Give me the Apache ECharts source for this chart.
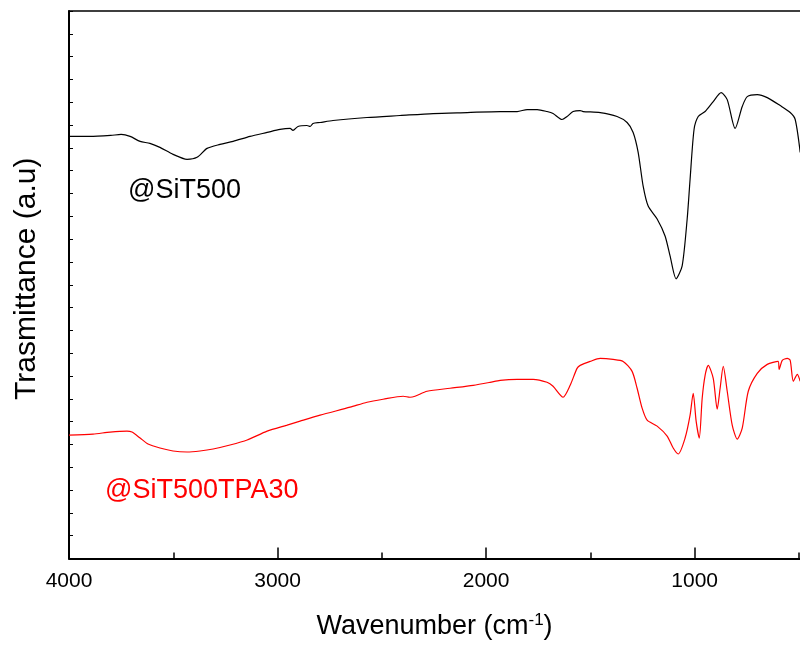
<!DOCTYPE html>
<html>
<head>
<meta charset="utf-8">
<script src="https://cdn.jsdelivr.net/npm/echarts@6/dist/echarts.min.js"></script>
<style>
  html, body { margin: 0; padding: 0; background: #fff; }
  #chart { width: 800px; height: 645px; }
</style>
</head>
<body>
<div id="chart"></div>
<script>
// Axis tick values
const majorTicks = [4000, 3000, 2000, 1000];
const minorTicks = [3500, 2500, 1500, 500];

// @SiT500 spectrum (wavenumber, transmittance a.u.)
const sit500Wn = [4000, 3900, 3800, 3750, 3707, 3659, 3612, 3564, 3501, 3434, 3386, 3338, 3276, 3213, 3132, 3050, 2988, 2940, 2926, 2902, 2859, 2844, 2830, 2796, 2734, 2571, 2413, 2254, 2091, 1933, 1851, 1803, 1755, 1708, 1679, 1636, 1612, 1583, 1549, 1535, 1453, 1372, 1324, 1295, 1271, 1247, 1223, 1180, 1142, 1118, 1089, 1060, 1036, 1022, 1003, 983, 950, 911, 873, 844, 806, 772, 748, 700, 652, 590, 542, 518, 494];
const sit500T = [424, 424, 425, 426, 424, 419, 417, 413, 406, 401, 403, 412, 416, 419, 424, 428, 431, 432, 430, 434, 435, 434, 437, 438, 440, 443, 445, 447, 448, 449, 449, 451, 451, 449, 447, 441, 444, 449, 450, 449, 448, 444, 438, 428, 408, 374, 354, 341, 324, 304, 281, 294, 341, 381, 431, 444, 449, 459, 468, 461, 432, 454, 464, 466, 463, 455, 448, 441, 408];

// @SiT500TPA30 spectrum (wavenumber, transmittance a.u.)
const tpaWn = [4000, 3885, 3803, 3722, 3698, 3659, 3621, 3564, 3501, 3434, 3372, 3309, 3228, 3146, 3050, 2954, 2892, 2796, 2652, 2571, 2494, 2398, 2365, 2341, 2283, 2173, 2062, 1981, 1933, 1851, 1775, 1708, 1679, 1631, 1597, 1564, 1549, 1501, 1453, 1391, 1343, 1300, 1276, 1252, 1228, 1180, 1132, 1103, 1079, 1046, 1022, 1007, 993, 978, 964, 950, 935, 911, 892, 878, 863, 844, 820, 796, 772, 743, 700, 652, 600, 595, 580, 556, 542, 527, 508, 494];
const tpaT = [124, 125, 127, 128, 127, 121, 115, 111, 108, 107, 108, 110, 114, 119, 128, 134, 138, 144, 152, 157, 160, 163, 162, 163, 168, 171, 174, 177, 179, 180, 180, 177, 173, 162, 174, 191, 194, 198, 201, 200, 198, 188, 171, 151, 139, 133, 123, 111, 105, 121, 144, 166, 138, 121, 161, 184, 194, 181, 150, 171, 193, 168, 134, 120, 131, 168, 186, 195, 198, 190, 199, 201, 199, 178, 185, 178];

const font = '"Liberation Sans", Arial, sans-serif';
const chart = echarts.init(document.getElementById('chart'));

chart.setOption({
    animation: false,
    grid: { left: 69, right: 0, top: 11, bottom: 84 },
    xAxis: [
        {
            type: 'value',
            inverse: true,
            min: 495,
            max: 4000,
            position: 'bottom',
            name: 'Wavenumber (cm{sup|-1})',
            nameLocation: 'middle',
            nameGap: 53,
            nameTextStyle: {
                color: '#000',
                fontFamily: font,
                fontSize: 27,
                rich: {
                    sup: { fontSize: 17, fontFamily: font, color: '#000', padding: [0, 0, 13, 0] }
                }
            },
            axisLine: { lineStyle: { color: '#000', width: 2 } },
            axisTick: { inside: true, length: 11, customValues: majorTicks, lineStyle: { color: '#000', width: 1.5 } },
            axisLabel: {
                customValues: majorTicks,
                formatter: v => String(v),
                color: '#000',
                fontFamily: font,
                fontSize: 21,
                margin: 12
            },
            splitLine: { show: false }
        },
        {
            type: 'value',
            inverse: true,
            min: 495,
            max: 4000,
            position: 'bottom',
            axisLine: { show: false },
            axisTick: { inside: true, length: 6, customValues: minorTicks, lineStyle: { color: '#000', width: 1.5 } },
            axisLabel: { show: false },
            splitLine: { show: false }
        },
        {
            type: 'value',
            inverse: true,
            min: 495,
            max: 4000,
            position: 'top',
            axisLine: { lineStyle: { color: '#000', width: 1.5 } },
            axisTick: { show: false },
            axisLabel: { show: false },
            splitLine: { show: false }
        }
    ],
    yAxis: {
        type: 'value',
        min: 0,
        max: 550,
        interval: 550 / 24,
        name: 'Trasmittance (a.u)',
        nameLocation: 'middle',
        nameGap: 27,
        nameTextStyle: { color: '#000', fontFamily: font, fontSize: 30, padding: [0, 0, 0, 12] },
        axisLine: { lineStyle: { color: '#000', width: 2 } },
        axisTick: { inside: true, length: 4, lineStyle: { color: '#000', width: 1 } },
        axisLabel: { show: false },
        splitLine: { show: false }
    },
    series: [
        {
            name: '@SiT500',
            type: 'line',
            data: sit500Wn.map((w, i) => [w, sit500T[i]]),
            showSymbol: false,
            smooth: 0.25,
            lineStyle: { color: '#000', width: 1.2 }
        },
        {
            name: '@SiT500TPA30',
            type: 'line',
            data: tpaWn.map((w, i) => [w, tpaT[i]]),
            showSymbol: false,
            smooth: 0.25,
            lineStyle: { color: '#ff0000', width: 1.2 }
        }
    ],
    graphic: [
        {
            type: 'text',
            left: 128,
            top: 177,
            style: { text: '@SiT500', fill: '#000', font: '27px ' + font }
        },
        {
            type: 'text',
            left: 105,
            top: 477,
            style: { text: '@SiT500TPA30', fill: '#ff0000', font: '27px ' + font }
        }
    ]
});
</script>
</body>
</html>
